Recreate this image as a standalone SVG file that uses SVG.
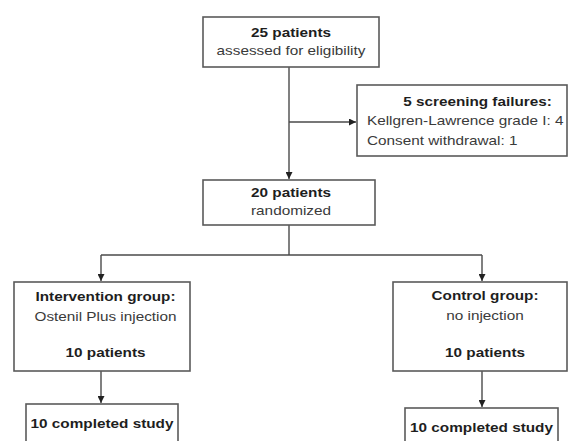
<svg xmlns="http://www.w3.org/2000/svg" width="568" height="441" viewBox="0 0 568 441">
<defs>
<marker id="arr" viewBox="0 0 10 10" refX="10" refY="5" markerWidth="7" markerHeight="7" markerUnits="userSpaceOnUse" orient="auto">
<path d="M0,0 L10,5 L0,10 z" fill="#222"/>
</marker>
<style>
.box{fill:#fff;stroke:#5a5a5a;stroke-width:1.6}
.b{font-family:"Liberation Sans",Arial,sans-serif;font-size:13px;font-weight:bold;fill:#1e1e1e}
.r{font-family:"Liberation Sans",Arial,sans-serif;font-size:13px;fill:#3a3a3a}
.m{text-anchor:middle}
.ln{fill:none;stroke:#4a4a4a;stroke-width:1.4}
</style>
</defs>
<rect width="568" height="441" fill="#fff"/>
<g id="connectors">
<path class="ln" d="M289,67 V179" marker-end="url(#arr)"/>
<path class="ln" d="M289,122 H356" marker-end="url(#arr)"/>
<path class="ln" d="M289,225 V255"/>
<path class="ln" d="M101,255 H482"/>
<path class="ln" d="M101,255 V281" marker-end="url(#arr)"/>
<path class="ln" d="M482,255 V281" marker-end="url(#arr)"/>
<path class="ln" d="M101,371 V403" marker-end="url(#arr)"/>
<path class="ln" d="M482,371 V407" marker-end="url(#arr)"/>
</g>
<g id="assessed">
<rect class="box" x="203" y="17" width="176" height="50"/>
<text class="b m" x="291" y="37" textLength="80" lengthAdjust="spacingAndGlyphs">25 patients</text>
<text class="r m" x="291" y="55" textLength="148.8" lengthAdjust="spacingAndGlyphs">assessed for eligibility</text>
</g>
<g id="screening">
<rect class="box" x="357" y="85" width="210" height="71"/>
<text class="b m" x="477.5" y="106" textLength="148.5" lengthAdjust="spacingAndGlyphs">5 screening failures:</text>
<text class="r" x="367" y="125" textLength="196.4" lengthAdjust="spacingAndGlyphs">Kellgren-Lawrence grade I: 4</text>
<text class="r" x="367" y="145" textLength="150.5" lengthAdjust="spacingAndGlyphs">Consent withdrawal: 1</text>
</g>
<g id="randomized">
<rect class="box" x="203" y="180" width="172" height="45"/>
<text class="b m" x="291" y="197" textLength="80" lengthAdjust="spacingAndGlyphs">20 patients</text>
<text class="r m" x="291" y="215" textLength="80" lengthAdjust="spacingAndGlyphs">randomized</text>
</g>
<g id="intervention">
<rect class="box" x="14" y="282" width="176" height="89"/>
<text class="b m" x="105.5" y="301" textLength="140" lengthAdjust="spacingAndGlyphs">Intervention group:</text>
<text class="r m" x="105.5" y="321" textLength="142" lengthAdjust="spacingAndGlyphs">Ostenil Plus injection</text>
<text class="b m" x="105.5" y="357" textLength="80" lengthAdjust="spacingAndGlyphs">10 patients</text>
</g>
<g id="control">
<rect class="box" x="393" y="282" width="174" height="89"/>
<text class="b m" x="485" y="300" textLength="107" lengthAdjust="spacingAndGlyphs">Control group:</text>
<text class="r m" x="485" y="320" textLength="77.4" lengthAdjust="spacingAndGlyphs">no injection</text>
<text class="b m" x="485" y="357" textLength="80" lengthAdjust="spacingAndGlyphs">10 patients</text>
</g>
<g id="completed-intervention">
<rect class="box" x="26" y="404" width="152" height="42"/>
<text class="b m" x="102" y="428" textLength="143" lengthAdjust="spacingAndGlyphs">10 completed study</text>
</g>
<g id="completed-control">
<rect class="box" x="405" y="408" width="153" height="42"/>
<text class="b m" x="481.5" y="432" textLength="143" lengthAdjust="spacingAndGlyphs">10 completed study</text>
</g>
</svg>
